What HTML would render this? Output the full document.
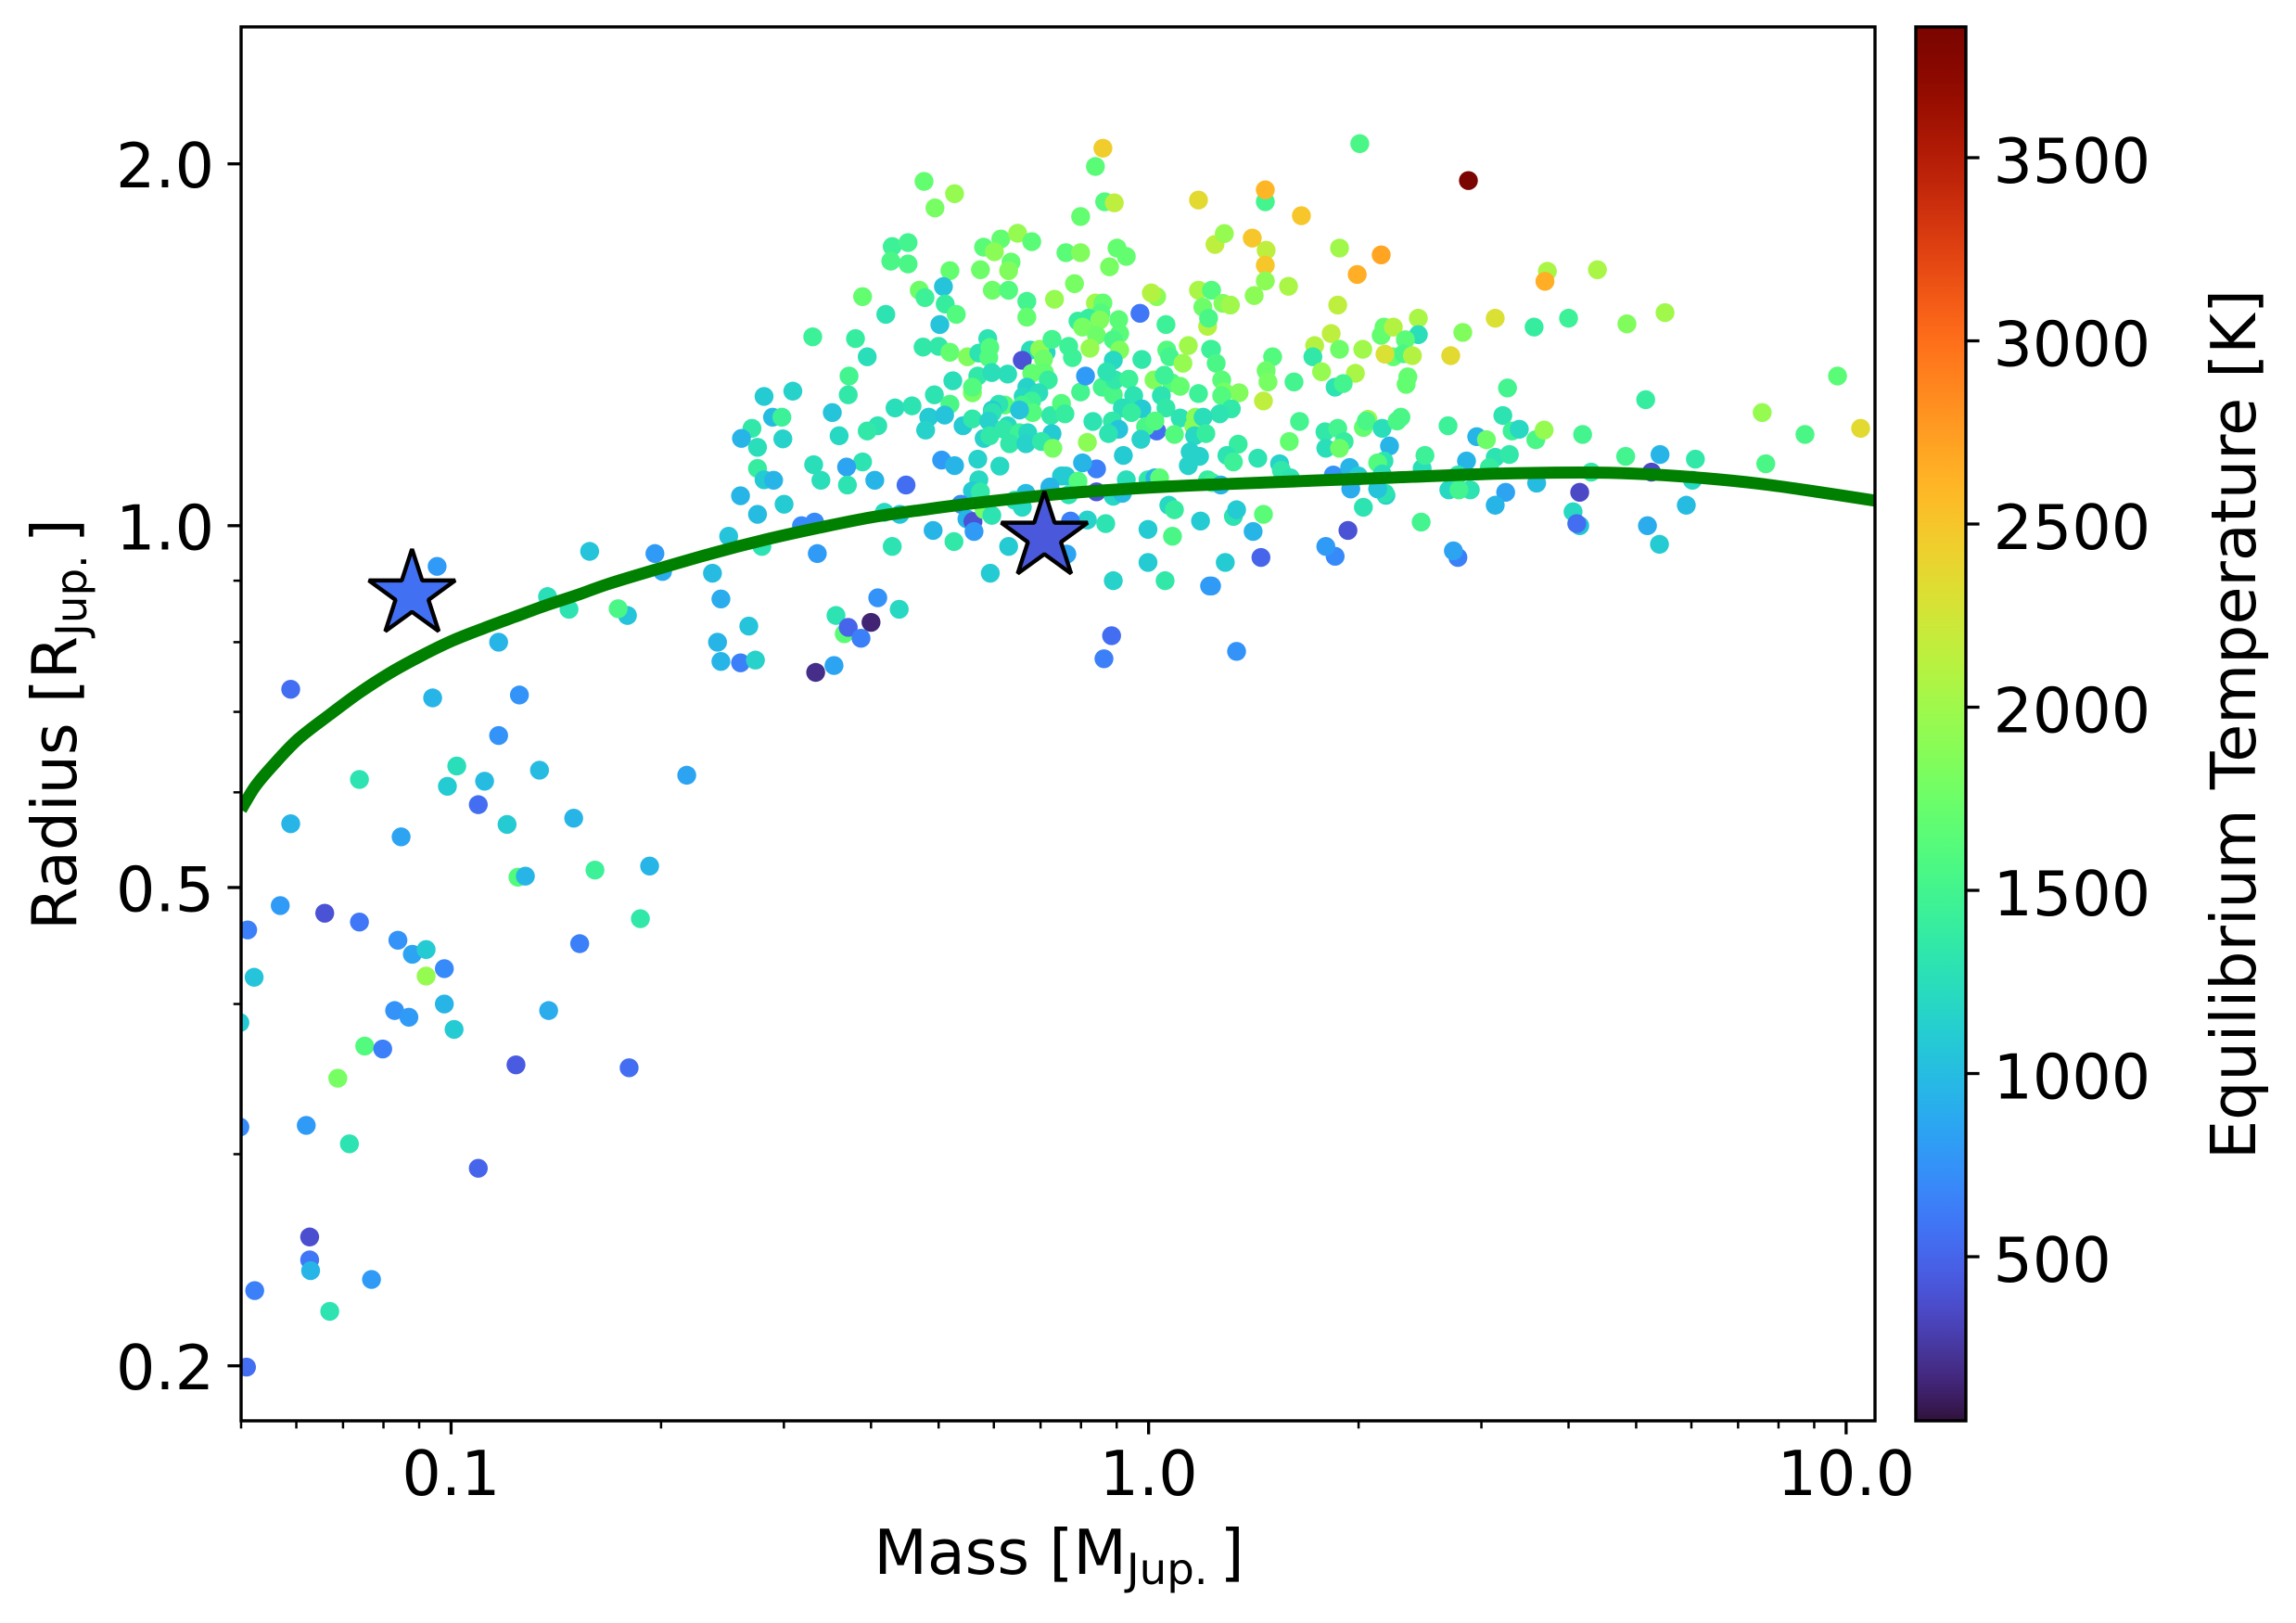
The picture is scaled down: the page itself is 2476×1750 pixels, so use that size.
<!DOCTYPE html>
<html lang="en">
<head>
<meta charset="utf-8">
<title>Exoplanet mass-radius diagram</title>
<style>
html,body{margin:0;padding:0;background:#fff;}
svg{display:block;}
text{font-family:"DejaVu Sans","Liberation Sans",sans-serif;font-size:66.67px;fill:#000;}
</style>
</head>
<body>
<svg id="chart" xmlns="http://www.w3.org/2000/svg" width="2476" height="1750" viewBox="0 0 2476 1750">
  <defs>
    <clipPath id="plot-clip"><rect x="260" y="29" width="1762" height="1503"></rect></clipPath>
    <linearGradient id="turbo-gradient" x1="0" y1="1" x2="0" y2="0"></linearGradient>
  </defs>
  <rect x="0" y="0" width="2476" height="1750" fill="#fff"></rect>
  <g id="dots" clip-path="url(#plot-clip)"></g>
  <path id="curve" clip-path="url(#plot-clip)" fill="none" stroke="#008000" stroke-width="13"></path>
  <g id="stars"></g>
  <rect x="260" y="29" width="1762" height="1503" fill="none" stroke="#000" stroke-width="3.4"></rect>
  <g id="x-ticks"></g>
  <g id="y-ticks"></g>
  <text x="1142" y="1697" text-anchor="middle">Mass [M<tspan font-size="46.67" dy="11">Jup.</tspan><tspan dy="-11" dx="13">]</tspan></text>
  <text transform="translate(82,781) rotate(-90)" text-anchor="middle">Radius [R<tspan font-size="46.67" dy="11">Jup.</tspan><tspan dy="-11" dx="13">]</tspan></text>
  <rect x="2066" y="29" width="54" height="1503" fill="url(#turbo-gradient)" stroke="#000" stroke-width="3.4"></rect>
  <g id="cbar-ticks"></g>
  <text transform="translate(2432,781) rotate(-90)" text-anchor="middle">Equilibrium Temperature [K]</text>
</svg>
<script>
const mass = [
.4765,.527,.494,.429,.452,.427,.452,.519,.580,.614,
.649,.680,.601,.635,.630,.574,.597,.630,.669,.669,
.733,.508,.469,.478,.511,.530,.389,.420,.502,.330,
.380,.395,.475,.500,.519,.550,.571,.588,.592,.590,
.677,.713,.698,.727,.659,.707,.372,.371,.309,.281,
.352,.289,.298,.270,.2608,.275,.299,.360,.433,.458,
.524,.493,.519,.569,.596,.628,.559,.559,.680,.709,
.718,.669,.696,.661,.680,.659,.682,.622,.610,.653,
.724,.597,.597,.484,.510,.479,.409,.395,.542,.559,
.590,.628,.620,.653,.671,.727,.581,.592,.632,.667,
.702,.729,.569,.505,.527,.612,.389,.331,.369,.339,
.370,.405,.275,.281,.290,.2600,.3002,.275,.449,.571,
.559,.574,.667,.722,.7517,.418,.440,.538,.549,.560,
.562,.581,.643,.659,.596,.318,.332,.491,.250,.279,
.335,.429,.526,.630,.593,.237,.196,.158,.201,.0955,
.1375,.1476,.179,.1736,.117,.2437,.2672,.2410,.3563,.4090,
.439,.4000,.3662,.371,.387,
.750,.7587,.832,.817,.799,.858,.890,.812,.895,.937,
1.018,1.079,1.110,1.179,.952,1.043,.917,.978,1.059,.945,
1.110,.887,.906,.876,1.027,.99,1.021,.975,1.089,1.161,
1.168,1.164,1.147,1.183,1.140,.920,.842,.804,.750,.7611,
.792,.929,.998,1.021,1.037,.722,.842,.7681,.890,.917,
1.069,1.089,1.187,.998,1.082,.817,.868,.7728,.7634,.998,
1.056,.890,1.223,.885,.863,
.860,.839,.865,.893,1.179,.799,.7611,.799,.901,.929,
.879,.783,1.027,1.009,1.179,1.196,.839,.860,.972,1.059,
.854,.906,.792,.820,.851,.804,.842,.909,.890,1.215,
.909,1.140,1.062,1.072,1.120,.824,.7681,.7777,.890,.978,
.871,1.053,1.227,
2.008,2.874,1.470,1.470,1.656,1.245,1.284,1.408,1.474,1.470,
1.878,2.155,1.991,1.470,1.587,1.417,1.867,1.231,1.278,1.310,
1.219,1.231,1.250,1.273,1.284,1.348,1.273,1.506,1.474,1.483,
1.616,1.461,1.730,1.827,1.878,1.720,1.770,1.979,2.028,1.851,
1.901,2.175,2.155,2.243,2.436,2.436,2.334,2.243,2.320,2.389,
2.182,2.711,2.821,2.353,2.340,1.314,1.265,1.197,1.208,1.646,
1.591,1.790,1.867,1.907,1.795,1.878,2.063,2.032,2.051,2.162,
2.271,2.300,2.687,2.954,2.215,2.175,2.130,2.162,2.467,2.490,
2.856,1.344,1.295,1.323,1.434,1.541,1.550,1.597,1.215,1.234,
1.269,1.840,1.942,1.999,1.949,2.189,2.182,2.130,2.694,
2.776,2.892,2.786,2.032,2.459,1.323,1.337,1.461,1.412,1.931,1.851,1.795,
1.449,1.288,1.231,2.776,2.735,1.337,
9.72,7.58,8.73,10.49,7.67,5.50,4.85,4.00,3.57,3.14,
4.40,3.73,3.70,3.27,5.16,3.22,3.05,3.32,3.40,3.59,
3.69,4.19,4.83,5.41,6.08,3.14,3.29,3.08,4.31,5.26,
6.02,3.60,4.15,3.25,3.14,4.06,4.15,4.11,5.90,5.19,5.40,
.0589,.0941,.1253,.1170,.0739,.1019,.0988,.1117,.1339,.1094,
.0589,.0848,.1203,.1499,.2177,.2437,.2600,.2731,.3332,.3540,
.1247,.1278,.1608,.1926,.0569,.0659,.0739,.0511,.0839,.0880,
.0921,.0978,.0921,.0522,.1529,.1868,.0830,.0870,.0978,.1010,
.1380,.0752,.0798,.0688,.1239,.1800,.0498,.0498,.0620,.0715,
.1094,.0627,.0627,.0629,.0769,.0523,.0670,.0509
];
const radius = [
1.934,1.889,1.838,1.707,1.720,1.660,1.651,1.630,1.705,1.732,
1.751,1.723,1.690,1.657,1.630,1.633,1.570,1.570,1.537,1.491,
1.543,1.581,1.570,1.548,1.529,1.499,1.551,1.499,1.470,1.436,
1.431,1.382,1.408,1.410,1.394,1.382,1.392,1.431,1.407,1.380,
1.400,1.394,1.402,1.429,1.373,1.376,1.332,1.285,1.294,1.281,
1.242,1.231,1.231,1.205,1.182,1.162,1.181,1.188,1.253,1.258,
1.320,1.285,1.262,1.332,1.341,1.337,1.290,1.304,1.339,1.341,
1.322,1.304,1.290,1.281,1.270,1.260,1.242,1.260,1.262,1.248,
1.235,1.248,1.242,1.231,1.236,1.201,1.211,1.199,1.211,1.227,
1.222,1.211,1.203,1.195,1.195,1.193,1.182,1.188,1.170,1.170,
1.175,1.160,1.136,1.134,1.122,1.121,1.130,1.124,1.119,1.091,
1.081,1.091,1.116,1.092,1.091,1.059,1.042,1.022,1.081,1.092,
1.069,1.067,1.064,1.073,1.100,1.026,1.022,1.042,1.013,1.008,
.989,1.031,1.050,1.036,1.020,1.000,1.007,.991,.980,.961,
.948,.961,.970,.961,.913,.913,.948,.952,.916,.925,
.873,.852,.842,.853,.800,.869,.825,.800,.842,.871,
.852,.831,.813,.823,.806,
1.264,1.239,1.221,1.173,1.292,1.304,1.285,1.332,1.322,1.324,
1.322,1.315,1.306,1.288,1.283,1.283,1.253,1.251,1.253,1.242,
1.229,1.222,1.203,1.193,1.199,1.209,1.222,1.180,1.191,1.209,
1.231,1.188,1.152,1.142,1.122,1.144,1.115,1.128,1.100,1.100,
1.089,1.092,1.092,1.096,1.096,1.077,1.067,1.061,1.058,1.064,
1.040,1.031,1.009,.993,.980,1.011,1.004,1.009,.947,.932,
.900,.900,.891,.810,.775,
2.061,1.990,1.860,1.856,1.866,1.808,1.687,1.687,1.702,1.675,
1.642,1.590,1.551,1.562,1.570,1.520,1.532,1.532,1.502,1.470,
1.503,1.484,1.480,1.488,1.483,1.463,1.440,1.445,1.428,1.465,
1.400,1.412,1.400,1.382,1.365,1.405,1.410,1.380,1.373,1.375,
1.343,1.334,1.402,
2.079,1.937,1.860,1.903,1.811,1.714,1.750,1.735,1.695,1.647,
1.702,1.680,1.618,1.598,1.582,1.554,1.526,1.570,1.531,1.526,
1.488,1.402,1.365,1.322,1.292,1.290,1.283,1.382,1.346,1.317,
1.317,1.270,1.412,1.445,1.402,1.382,1.343,1.339,1.402,1.304,
1.313,1.463,1.440,1.463,1.488,1.442,1.428,1.382,1.390,1.385,
1.389,1.385,1.448,1.330,1.311,1.251,1.239,1.231,1.193,1.221,
1.175,1.197,1.205,1.175,1.160,1.160,1.226,1.207,1.222,1.205,
1.222,1.231,1.211,1.186,1.165,1.132,1.128,1.104,1.116,1.144,
1.132,1.169,1.144,1.130,1.138,1.126,1.112,1.096,1.092,1.086,
1.081,1.102,1.118,1.100,1.073,1.060,1.064,1.073,1.071,
1.102,1.071,1.071,1.036,1.007,1.018,1.031,1.022,.989,.991,.943,.961,
.941,.932,.891,.941,.953,.786,
1.332,1.242,1.191,1.205,1.126,1.504,1.472,1.488,1.463,1.488,
1.633,1.628,1.597,1.302,1.273,1.235,1.179,1.199,1.203,1.179,
1.201,1.191,1.142,1.146,1.136,1.140,1.146,1.118,1.108,1.108,
1.091,1.085,1.066,1.066,1.040,1.027,1.0,1.004,1.040,1.0,.965,
.731,.719,.723,.669,.615,.631,.607,.613,.626,.586,
.565,.551,.5642,.571,.620,.771,.769,.773,.755,.765,
.510,.511,.517,.521,.483,.476,.468,.461,.452,.440,
.444,.428,.422,.421,.449,.471,.395,.390,.400,.381,
.395,.369,.367,.347,.356,.354,.386,.316,.317,.306,
.292,.256,.245,.240,.236,.231,.222,.1995
];
const teff = [
1700,1950,1800,1450,1500,1550,1550,1700,1650,1700,
1950,1650,1900,1700,1850,1750,1750,1600,1500,1700,
1950,1050,1750,1450,1400,1600,1700,1300,1050,1450,
1400,1250,1350,1350,1700,1850,1300,1300,1600,1600,
1250,1200,1900,1500,400,1750,1500,1350,1150,1100,
1050,1000,1450,1350,950,1250,1150,1200,1250,1300,
1250,1300,1550,1350,1250,1250,1800,1600,1700,1700,
1400,1150,1250,1200,1450,1500,1600,1650,1300,1050,
1350,1100,1300,1100,1050,1150,1300,1350,1100,1350,
1150,1200,1350,1450,1200,1100,1150,1350,1350,1150,
1350,1800,1150,800,950,1200,1300,1250,850,1250,
1300,950,1400,1100,950,950,1100,1000,550,1200,
1100,1350,1000,1100,1100,1200,1050,700,950,400,
800,1800,1250,1200,1300,700,700,950,1050,1300,
800,1300,1350,1100,1100,1000,800,1050,900,800,
1250,1300,1050,1550,950,900,1050,950,1300,750,
1200,150,1650,500,650,
1600,1400,1300,1900,1500,1500,1550,800,1350,1450,
1850,1600,1700,1450,1300,1300,1250,1100,1350,1400,
1300,1350,1050,1300,550,1550,1600,1150,1600,1900,
1900,1200,1150,1150,1150,1100,650,950,1100,1100,
1600,1250,1350,950,1650,950,400,1300,1200,1000,
1200,1400,1100,1100,1550,1150,1300,650,850,1100,
1350,1150,800,550,650,
2450,1650,1600,2150,2350,1700,1650,1850,1700,1700,
1800,1800,1900,2100,2050,1750,2000,1700,600,1450,
1600,1650,1400,1400,1850,1800,1750,1650,1550,2100,
1850,2000,1600,1500,1950,1950,1450,1450,1200,1350,
1300,1450,1450,
1550,3850,1500,2600,2500,2150,1950,2500,2150,2500,
2000,2700,2650,1900,2050,1900,2150,1600,1850,2000,
1550,1450,1550,1650,1800,1850,1600,1600,1750,1800,
1500,2150,2100,2150,1750,1350,1950,2050,2000,1300,
1500,1700,1700,2100,2050,1250,1650,1700,1550,2100,
2300,2350,1850,1700,1700,1350,1300,1250,1400,1500,
1700,1350,1500,1400,1250,1750,2000,1700,1550,1250,
1550,1550,1450,950,950,1300,1600,1250,1250,1450,
950,1400,1300,1450,1300,1150,1350,1300,1400,1450,
950,750,950,1100,900,1150,1300,1050,1200,
1300,1300,1500,1300,1500,1300,1100,1650,950,400,700,800,
500,1100,800,650,850,750,
1650,1950,1550,2350,1550,2000,1850,1450,1400,2300,
2050,2050,2650,1500,1400,1300,1750,1450,1200,1550,
1950,1500,1500,950,1350,1300,1350,1400,1350,350,
1200,1000,350,850,950,1200,1050,550,1000,900,1100,
550,950,750,750,1300,1250,1100,1000,1000,550,
950,850,1100,950,850,950,650,1150,200,850,
1600,950,1450,950,800,400,600,650,750,850,
1100,700,1950,1050,650,1350,750,800,950,1100,
900,1600,650,1800,450,550,1100,700,800,1300,
500,380,600,950,800,650,1300,550
];
const curveMass = [.05,.0524,.0557,.0604,.0669,.0740,.0820,.0908,.1005,.1114,.1234,.1365,.1514,.1675,.1894,.237,.281,.335,.400,.475,.569,.763,1.0,1.29,2.19,3.2,4.4,5.27,6.3,7.49,9.0,11.0];
const curveRadius = [.5803,.607,.633,.6646,.6959,.7266,.7550,.7798,.8024,.8216,.8398,.8580,.8753,.8938,.9135,.9485,.973,.9954,1.016,1.031,1.045,1.064,1.0757,1.083,1.096,1.105,1.107,1.103,1.095,1.084,1.068,1.049];
const starMass = [.0879,.709];
const starRadius = [.8765,.979];
const starTeff = [560,430];
const xMajorTicks = [0.1,1,10];
const xMajorLabels = ["0.1","1.0","10.0"];
const xMinorTicks = [.05,.06,.07,.08,.09,.2,.3,.4,.5,.6,.7,.8,.9,2,3,4,5,6,7,8,9];
const yMajorTicks = [0.2,0.5,1,2];
const yMajorLabels = ["0.2","0.5","1.0","2.0"];
const yMinorTicks = [.3,.4,.6,.7,.8,.9];
const cbarTicks = [500,1000,1500,2000,2500,3000,3500];
const cbarLabels = ["500","1000","1500","2000","2500","3000","3500"];

const NS = "http://www.w3.org/2000/svg";
const PLOT = {l:260,r:2022,t:29,b:1532};
const XLIM = [0.05,11], YLIM = [0.18,2.6], TLIM = [52,3857];
const x = m => PLOT.l + Math.log10(m/XLIM[0])/Math.log10(XLIM[1]/XLIM[0])*(PLOT.r-PLOT.l);
const y = r => PLOT.t + Math.log10(YLIM[1]/r)/Math.log10(YLIM[1]/YLIM[0])*(PLOT.b-PLOT.t);
const cy = t => PLOT.b - (t-TLIM[0])/(TLIM[1]-TLIM[0])*(PLOT.b-PLOT.t);

function turbo(v){
  const t=Math.max(0,Math.min(1,v));
  let r=0.13572138+t*(4.61539260+t*(-42.66032258+t*(132.13108234+t*(-152.94239396+t*59.28637943))));
  let g=0.09140261+t*(2.19418839+t*(4.84296658+t*(-14.18503333+t*(4.27729857+t*2.82956604))));
  let b=0.10667330+t*(12.64194608+t*(-60.58204836+t*(110.36276771+t*(-89.90310912+t*27.34824973))));
  if(t<0.05){
    const u=1-t/0.05;
    r+=0.051*u; g-=0.02*u; b+=0.125*u;
  }
  if(t>0.9){
    const u=(t-0.9)/0.1;
    r-=0.086*u*u; g-=0.032*u*u;
  }
  const c=a=>Math.round(255*Math.max(0,Math.min(1,a)));
  return "rgb("+c(r)+","+c(g)+","+c(b)+")";
}
const tempColor = t => turbo((t-TLIM[0])/(TLIM[1]-TLIM[0]));
function make(tag,attrs,parent){
  const e=document.createElementNS(NS,tag);
  for(const k in attrs){e.setAttribute(k,attrs[k]);}
  parent.appendChild(e);
  return e;
}

const grad=document.getElementById("turbo-gradient");
for(let i=0;i<=64;i++){
  make("stop",{offset:(i/64),"stop-color":turbo(i/64)},grad);
}

const dotsG=document.getElementById("dots");
mass.forEach((m,i)=>{
  const c=make("circle",{cx:x(m),cy:y(radius[i]),r:10.2,fill:tempColor(teff[i])},dotsG);
  
  
});

const pts=curveMass.map((m,i)=>[x(m),y(curveRadius[i])]);
let d="M"+pts[0][0]+" "+pts[0][1];
for(let i=0;i<pts.length-1;i++){
  const p0=pts[Math.max(0,i-1)],p1=pts[i],p2=pts[i+1],p3=pts[Math.min(pts.length-1,i+2)];
  d+=" C"+(p1[0]+(p2[0]-p0[0])/6)+" "+(p1[1]+(p2[1]-p0[1])/6)+" "+(p2[0]-(p3[0]-p1[0])/6)+" "+(p2[1]-(p3[1]-p1[1])/6)+" "+p2[0]+" "+p2[1];
}
document.getElementById("curve").setAttribute("d",d);

const starsG=document.getElementById("stars");
starMass.forEach((m,i)=>{
  const cx=x(m),cyy=y(starRadius[i]),R=49,r=R*0.381966;
  let s="";
  for(let k=0;k<10;k++){
    const a=-Math.PI/2+k*Math.PI/5,q=k%2?r:R;
    s+=(k?"L":"M")+(cx+q*Math.cos(a))+" "+(cyy+q*Math.sin(a));
  }
  const st=make("path",{d:s+"Z",fill:tempColor(starTeff[i]),stroke:"#000","stroke-width":4.4,"stroke-linejoin":"bevel"},starsG);
  
  
});

const xG=document.getElementById("x-ticks");
xMinorTicks.forEach(v=>{
  const t=make("line",{x1:x(v),x2:x(v),y1:PLOT.b,y2:PLOT.b+8.3,stroke:"#000","stroke-width":2.5},xG);
  
  
});
xMajorTicks.forEach((v,i)=>{
  const t=make("line",{x1:x(v),x2:x(v),y1:PLOT.b,y2:PLOT.b+14.6,stroke:"#000","stroke-width":3.3},xG);
  
  
  const l=make("text",{x:x(v),y:1612,"text-anchor":"middle"},xG);
  l.textContent=xMajorLabels[i];
  
  
});

const yG=document.getElementById("y-ticks");
yMinorTicks.forEach(v=>{
  const t=make("line",{x1:PLOT.l,x2:PLOT.l-8.3,y1:y(v),y2:y(v),stroke:"#000","stroke-width":2.5},yG);
  
  
});
yMajorTicks.forEach((v,i)=>{
  const t=make("line",{x1:PLOT.l,x2:PLOT.l-14.6,y1:y(v),y2:y(v),stroke:"#000","stroke-width":3.3},yG);
  
  
  const l=make("text",{x:231,y:y(v)+25.5,"text-anchor":"end"},yG);
  l.textContent=yMajorLabels[i];
  
  
});

const cG=document.getElementById("cbar-ticks");
cbarTicks.forEach((v,i)=>{
  const t=make("line",{x1:2120,x2:2134.6,y1:cy(v),y2:cy(v),stroke:"#000","stroke-width":3.3},cG);
  
  
  const l=make("text",{x:2149.5,y:cy(v)+27,},cG);
  l.textContent=cbarLabels[i];
  
  
});
</script>
</body>
</html>
